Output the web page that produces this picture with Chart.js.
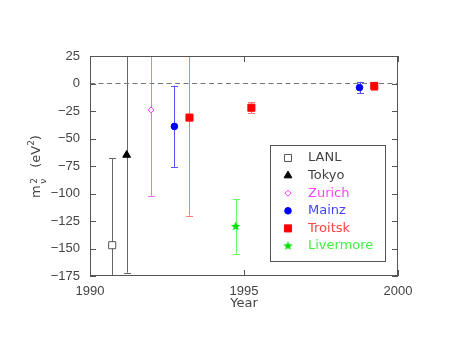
<!DOCTYPE html>
<html>
<head>
<meta charset="utf-8">
<script src="https://cdn.jsdelivr.net/npm/chart.js@4"></script>
<style>
  html, body { margin: 0; padding: 0; background: #fff; }
  #wrap { width: 449px; height: 347px; }
</style>
</head>
<body>
<div id="wrap"><canvas id="myChart" width="449" height="347"></canvas></div>
<script>
// data (year, m^2 in eV^2, +/- error)
var lanlYear = [1990.72], lanlM2 = [-147], lanlErr = [79];
var tokyoYear = [1991.19], tokyoM2 = [-65], tokyoErr = [107];
var zurichYear = [1991.98], zurichM2 = [-24], zurichErr = [78];
var mainzYear = [1992.74, 1998.75], mainzM2 = [-39, -3.7], mainzErr = [37, 5.3];
var troitskYear = [1993.23, 1995.24, 1999.23], troitskM2 = [-31, -22, -2.2], troitskErr = [89, 4.8, 3.5];
var livermoreYear = [1994.73], livermoreM2 = [-130], livermoreErr = [25];

var xTicks = [1990, 1995, 2000];
var yTicks = [25, 0, -25, -50, -75, -100, -125, -150, -175];

function pts(xs, ys) {
  return xs.map((x, i) => ({ x: x, y: ys[i] }));
}

// little filled star for Livermore
function makeStar(color) {
  let c = document.createElement('canvas');
  c.width = 11; c.height = 11;
  let g = c.getContext('2d');
  g.fillStyle = color;
  g.beginPath();
  for (let i = 0; i < 10; i++) {
    let r = i % 2 === 0 ? 5 : 2.1;
    let a = -Math.PI / 2 + i * Math.PI / 5;
    let px = 5.5 + r * Math.cos(a), py = 5.5 + r * Math.sin(a);
    if (i === 0) g.moveTo(px, py); else g.lineTo(px, py);
  }
  g.closePath();
  g.fill();
  return c;
}
var starImg = makeStar('#00e000');

var errorBars = {
  id: 'errorBars',
  beforeDatasetsDraw(chart) {
    let ctx = chart.ctx, a = chart.chartArea;
    let xs = chart.scales.x, ys = chart.scales.y;
    ctx.save();
    ctx.beginPath();
    ctx.rect(a.left, a.top, a.right - a.left, a.bottom - a.top);
    ctx.clip();
    chart.data.datasets.forEach(ds => {
      if (!ds.errors) return;
      ctx.strokeStyle = ds.errColor;
      ctx.lineWidth = 1;
      ds.data.forEach((p, i) => {
        let px = Math.round(xs.getPixelForValue(p.x)) + 0.5;
        let yTop = ys.getPixelForValue(p.y + ds.errors[i]);
        let yBot = ys.getPixelForValue(p.y - ds.errors[i]);
        ctx.beginPath();
        ctx.moveTo(px, yTop);
        ctx.lineTo(px, yBot);
        [yTop, yBot].forEach(yy => {
          if (yy > a.top && yy < a.bottom) {
            let r = Math.round(yy) + 0.5;
            ctx.moveTo(px - 3.5, r);
            ctx.lineTo(px + 3.5, r);
          }
        });
        ctx.stroke();
      });
    });
    ctx.restore();
  }
};

var frameAndText = {
  id: 'frameAndText',
  afterDraw(chart) {
    let ctx = chart.ctx, a = chart.chartArea;
    let xs = chart.scales.x, ys = chart.scales.y;
    ctx.save();
    ctx.strokeStyle = '#555';
    ctx.lineWidth = 1;
    ctx.strokeRect(a.left + 0.5, a.top + 0.5, a.right - a.left - 1, a.bottom - a.top - 1);
    ctx.beginPath();
    yTicks.forEach(v => {
      let y = Math.round(ys.getPixelForValue(v)) + 0.5;
      ctx.moveTo(a.left, y); ctx.lineTo(a.left + 6, y);
      ctx.moveTo(a.right - 6, y); ctx.lineTo(a.right, y);
    });
    xTicks.forEach(v => {
      let x = Math.round(xs.getPixelForValue(v)) + 0.5;
      ctx.moveTo(x, a.bottom); ctx.lineTo(x, a.bottom - 6);
      ctx.moveTo(x, a.top); ctx.lineTo(x, a.top + 6);
    });
    ctx.stroke();

    // x title
    ctx.fillStyle = '#444';
    ctx.font = '13px "DejaVu Sans"';
    ctx.textAlign = 'center';
    ctx.textBaseline = 'middle';
    ctx.fillText('Year', (a.left + a.right) / 2, 304);

    // y title: m_nu^2 (eV^2), rotated
    ctx.save();
    ctx.translate(39.5, 198);
    ctx.rotate(-Math.PI / 2);
    ctx.textAlign = 'left';
    ctx.textBaseline = 'alphabetic';
    ctx.font = '13px "DejaVu Sans"';
    ctx.fillText('m', 0, 0);
    let x0 = ctx.measureText('m').width + 1.5;
    ctx.font = '9px "DejaVu Sans"';
    ctx.fillText('2', x0, -2.5);
    ctx.fillText('\u03BD', x0, 6.5);
    x0 += 16;
    ctx.font = '13px "DejaVu Sans"';
    ctx.fillText('(eV', x0, 0);
    x0 += ctx.measureText('(eV').width;
    ctx.font = '9px "DejaVu Sans"';
    ctx.fillText('2', x0, -5.5);
    x0 += ctx.measureText('2').width;
    ctx.font = '13px "DejaVu Sans"';
    ctx.fillText(')', x0, 0);
    ctx.restore();

    // legend box
    ctx.strokeStyle = '#555';
    ctx.strokeRect(270.5, 145.5, 115, 116);
    ctx.textAlign = 'left';
    ctx.textBaseline = 'middle';
    ctx.font = '13px "DejaVu Sans"';
    chart.data.datasets.filter(d => d.errors).forEach((ds, i) => {
      let y = 158 + i * 17.6;
      let st = ds.pointStyle;
      if (st instanceof HTMLCanvasElement) {
        ctx.drawImage(st, 288 - st.width / 2, y - st.height / 2);
      } else {
        ctx.fillStyle = ds.pointBackgroundColor;
        ctx.strokeStyle = ds.pointBorderColor;
        ctx.lineWidth = 1;
        Chart.helpers.drawPoint(ctx, { pointStyle: st, radius: ds.pointRadius, borderWidth: 1, rotation: 0 }, 288, y);
      }
      ctx.fillStyle = ds.textColor;
      ctx.fillText(ds.label, 308, y);
    });
    ctx.restore();
  }
};

new Chart('myChart', {
  type: 'scatter',
  data: {
    datasets: [
      { label: 'LANL', data: pts(lanlYear, lanlM2), errors: lanlErr, errColor: '#666',
        pointStyle: 'rect', pointRadius: 5, pointBackgroundColor: '#fff', pointBorderColor: '#555', pointBorderWidth: 1, textColor: '#444' },
      { label: 'Tokyo', data: pts(tokyoYear, tokyoM2), errors: tokyoErr, errColor: '#666',
        pointStyle: 'triangle', pointRadius: 4.5, pointBackgroundColor: '#000', pointBorderColor: '#000', pointBorderWidth: 1, textColor: '#444' },
      { label: 'Zurich', data: pts(zurichYear, zurichM2), errors: zurichErr, errColor: '#ff66ff',
        pointStyle: 'rectRot', pointRadius: 3, pointBackgroundColor: '#fff', pointBorderColor: '#ff33ff', pointBorderWidth: 1, textColor: '#ff44ff' },
      { label: 'Mainz', data: pts(mainzYear, mainzM2), errors: mainzErr, errColor: '#5555ff',
        pointStyle: 'circle', pointRadius: 3.3, pointBackgroundColor: '#0000ff', pointBorderColor: '#0000ff', pointBorderWidth: 1, textColor: '#4444ff' },
      { label: 'Troitsk', data: pts(troitskYear, troitskM2), errors: troitskErr, errColor: '#ff7777',
        pointStyle: 'rect', pointRadius: 5, pointBackgroundColor: '#ff0000', pointBorderColor: '#ff0000', pointBorderWidth: 1, textColor: '#ff4444' },
      { label: 'Livermore', data: pts(livermoreYear, livermoreM2), errors: livermoreErr, errColor: '#66ff66',
        pointStyle: starImg, pointRadius: 5, pointBackgroundColor: '#00e000', pointBorderColor: '#00e000', textColor: '#44ee44' },
      { type: 'line', label: 'zero', data: [{ x: 1990, y: 0 }, { x: 2000, y: 0 }],
        borderColor: '#777', borderWidth: 1, borderDash: [5, 3.5], pointRadius: 0, order: 10 }
    ]
  },
  options: {
    responsive: false,
    animation: false,
    events: [],
    layout: { padding: { left: 0, right: 51, top: 56, bottom: 0 } },
    plugins: { legend: { display: false }, tooltip: { enabled: false } },
    scales: {
      x: {
        type: 'linear', min: 1990, max: 2000,
        grid: { display: false, drawTicks: false }, border: { display: false },
        afterBuildTicks: s => { s.ticks = xTicks.map(v => ({ value: v })); },
        afterFit: s => { s.height = 71; },
        ticks: { padding: 8, color: '#444', font: { family: 'Liberation Sans', size: 13 }, maxRotation: 0,
          callback: v => String(v) }
      },
      y: {
        min: -175, max: 25,
        grid: { display: false, drawTicks: false }, border: { display: false },
        afterBuildTicks: s => { s.ticks = yTicks.map(v => ({ value: v })); },
        afterFit: s => { s.width = 90; },
        ticks: { padding: 10, color: '#444', font: { family: 'Liberation Sans', size: 13 },
          callback: v => v < 0 ? '\u2212' + Math.abs(v) : String(v) }
      }
    }
  },
  plugins: [errorBars, frameAndText]
});
</script>
</body>
</html>
